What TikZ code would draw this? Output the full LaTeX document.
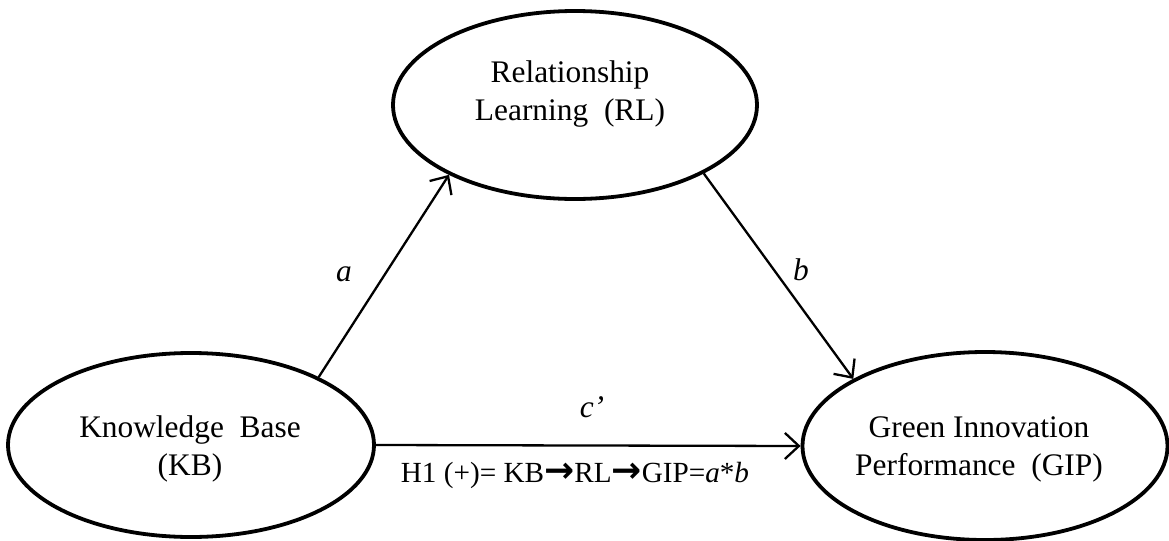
\documentclass[tikz,border=0pt]{standalone}
\usepackage{fontspec}
\setmainfont{Liberation Serif}
\newfontfamily\arrowfont{DejaVu Sans}
\usetikzlibrary{shapes.geometric,arrows.meta}
\newcommand{\harrow}{{\arrowfont\bfseries\fontsize{18pt}{18pt}\selectfont →}}
\tikzset{
  construct/.style={draw, ellipse, line width=1.9pt, inner sep=0pt},
  ctext/.style={align=center, font=\fontsize{15.7pt}{19pt}\selectfont, inner sep=0pt},
  path/.style={line width=1.15pt, -{Straight Barb[length=7pt,width=13pt,line width=1.15pt]}},
  lbl/.style={font=\fontsize{15.7pt}{17pt}\selectfont\itshape},
}
\begin{document}
\begin{tikzpicture}[x=0.5pt,y=-0.5pt]
\useasboundingbox (0,0) rectangle (1169,541);
\node[construct, minimum width=182pt, minimum height=94pt] (RL) at (575,105) {};
\node[construct, minimum width=183pt, minimum height=92pt] (KB) at (191,445) {};
\node[construct, minimum width=182.5pt, minimum height=94pt] (GIP) at (985,446) {};
\node[ctext] (RLt) at (570,94) {Relationship\\Learning\ \ (RL)};
\node[ctext] (KBt) at (190,449) {Knowledge\ \ Base\\(KB)};
\node[ctext] (GIPt) at (979,449) {Green Innovation\\Performance\ \ (GIP)};
\draw[path] (KB.28) -- (RL.209);
\draw[path] (RL.332) -- (GIP.153);
\draw[path] (KB.east) -- (GIP.west);
\node[lbl] (la) at (344,274) {a};
\node[lbl] (lb) at (801,270) {b};
\node[lbl] (lc) at (592,407) {c’};
\node[font=\fontsize{14.6pt}{17pt}\selectfont, anchor=base] (h1) at (575,482) {H1 (+)= KB\harrow RL\harrow GIP=\textit{a}*\textit{b}};
\end{tikzpicture}
\end{document}
